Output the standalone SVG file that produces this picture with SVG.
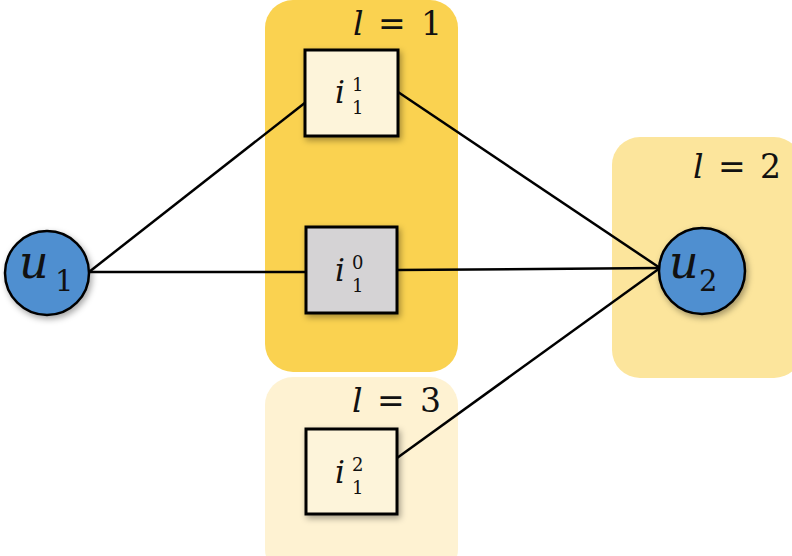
<svg xmlns="http://www.w3.org/2000/svg" width="792" height="556" viewBox="0 0 792 556">
<defs>
<filter id="sh" x="-20%" y="-20%" width="150%" height="150%">
<feDropShadow dx="2" dy="3" stdDeviation="3" flood-color="#000" flood-opacity="0.35"/>
</filter>
<style>
.reg{stroke:none}
.box{stroke:#000;stroke-width:3}
.node{fill:#4F8FD0;stroke:#000;stroke-width:2.5}
.edge{stroke:#000;stroke-width:2.5;fill:none}
.t{fill:#111}
.it{font-style:italic}
</style>
</defs>
<rect width="792" height="556" fill="#fff"/>
<g font-family="'DejaVu Serif', serif">
<g id="region-l1">
<rect class="reg" x="265" y="0" width="193" height="372" rx="28" fill="#FAD250"/>
<text class="t" x="353" y="35" font-size="33"><tspan class="it">l</tspan><tspan x="378">=</tspan><tspan x="421">1</tspan></text>
</g>
<g id="region-l2">
<rect class="reg" x="612" y="137" width="190" height="241" rx="28" fill="#FCE59C"/>
<text class="t" x="693" y="178" font-size="33"><tspan class="it">l</tspan><tspan x="718">=</tspan><tspan x="760">2</tspan></text>
</g>
<g id="region-l3">
<rect class="reg" x="265" y="377" width="193" height="200" rx="28" fill="#FEF2D2"/>
<text class="t" x="352" y="412" font-size="33"><tspan class="it">l</tspan><tspan x="377">=</tspan><tspan x="420">3</tspan></text>
</g>
<g id="connectors">
<line class="edge" x1="89" y1="272" x2="306" y2="102"/>
<line class="edge" x1="89" y1="272" x2="306" y2="272"/>
<line class="edge" x1="398" y1="92" x2="660" y2="268"/>
<line class="edge" x1="397" y1="270" x2="660" y2="268"/>
<line class="edge" x1="397" y1="458" x2="660" y2="268"/>
</g>
<g id="i11">
<rect class="box" x="305" y="50" width="93" height="86" fill="#FDF4DA" filter="url(#sh)"/>
<text class="t it" x="335" y="103" font-size="31">i</text>
<text class="t" x="352" y="91" font-size="18">1</text>
<text class="t" x="352" y="114" font-size="18">1</text>
</g>
<g id="i10">
<rect class="box" x="306" y="227" width="91" height="86" fill="#D5D3D5" filter="url(#sh)"/>
<text class="t it" x="335" y="281" font-size="31">i</text>
<text class="t" x="352" y="269" font-size="18">0</text>
<text class="t" x="352" y="292" font-size="18">1</text>
</g>
<g id="i12">
<rect class="box" x="306" y="429" width="91" height="85" fill="#FDF4DA" filter="url(#sh)"/>
<text class="t it" x="335" y="483" font-size="31">i</text>
<text class="t" x="352" y="471" font-size="18">2</text>
<text class="t" x="352" y="494" font-size="18">1</text>
</g>
<g id="u1">
<circle class="node" cx="47" cy="273" r="42" filter="url(#sh)"/>
<text class="t it" x="19" y="278" font-size="46">u</text>
<text class="t" x="55" y="291" font-size="29">1</text>
</g>
<g id="u2">
<circle class="node" cx="702" cy="271" r="43" filter="url(#sh)"/>
<text class="t it" x="669" y="278" font-size="46">u</text>
<text class="t" x="699" y="291" font-size="29">2</text>
</g>
</g>
</svg>
